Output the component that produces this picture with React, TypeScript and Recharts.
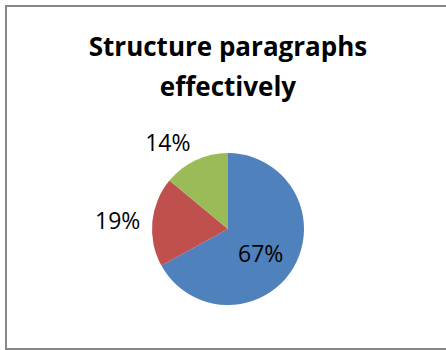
import { PieChart, Pie, Cell } from 'recharts';

const categories = ['A', 'B', 'C'];
const values = [67, 19, 14];
const colors = ['#4F81BD', '#C0504D', '#9BBB59'];
const title = ['Structure paragraphs', 'effectively'];

const data = categories.map((name, i) => ({ name, value: values[i] }));

const RAD = Math.PI / 180;

const renderLabel = (props: any) => {
    const { cx, cy, midAngle, outerRadius, value } = props;
    const cos = Math.cos(-midAngle * RAD);
    const sin = Math.sin(-midAngle * RAD);
    if (value > 50) {
        const r = outerRadius * 0.5;
        return (
            <text
                x={cx + r * cos}
                y={cy + r * sin + 5}
                textAnchor="middle"
                dominantBaseline="central"
                fontFamily="Open Sans"
                fontSize={23}
                fill="#000"
            >
                {`${value}%`}
            </text>
        );
    }
    const r = outerRadius + 12;
    return (
        <text
            x={cx + r * cos}
            y={cy + r * sin + sin * 8}
            textAnchor={cos < 0 ? 'end' : 'start'}
            dominantBaseline="central"
            fontFamily="Open Sans"
            fontSize={23}
            fill="#000"
        >
            {`${value}%`}
        </text>
    );
};

export default function App() {
    return (
        <div
            style={{
                position: 'absolute',
                left: 5,
                top: 5,
                width: 460,
                height: 341,
                border: '2px solid #878787',
                background: '#fff',
            }}
        >
            <div
                style={{
                    position: 'absolute',
                    left: 0,
                    top: 19,
                    width: 442,
                    textAlign: 'center',
                    fontFamily: 'Open Sans',
                    fontWeight: 700,
                    fontSize: 26,
                    lineHeight: '40px',
                    color: '#000',
                }}
            >
                {title.map((t) => (
                    <div key={t}>{t}</div>
                ))}
            </div>
            <PieChart width={446} height={341} margin={{ top: 0, right: 0, bottom: 0, left: 0 }}>
                <Pie
                    data={data}
                    dataKey="value"
                    nameKey="name"
                    cx={221}
                    cy={222}
                    outerRadius={76}
                    startAngle={90}
                    endAngle={-270}
                    stroke="none"
                    label={renderLabel}
                    labelLine={false}
                    isAnimationActive={false}
                >
                    {data.map((d, i) => (
                        <Cell key={d.name} fill={colors[i]} />
                    ))}
                </Pie>
            </PieChart>
        </div>
    );
}
